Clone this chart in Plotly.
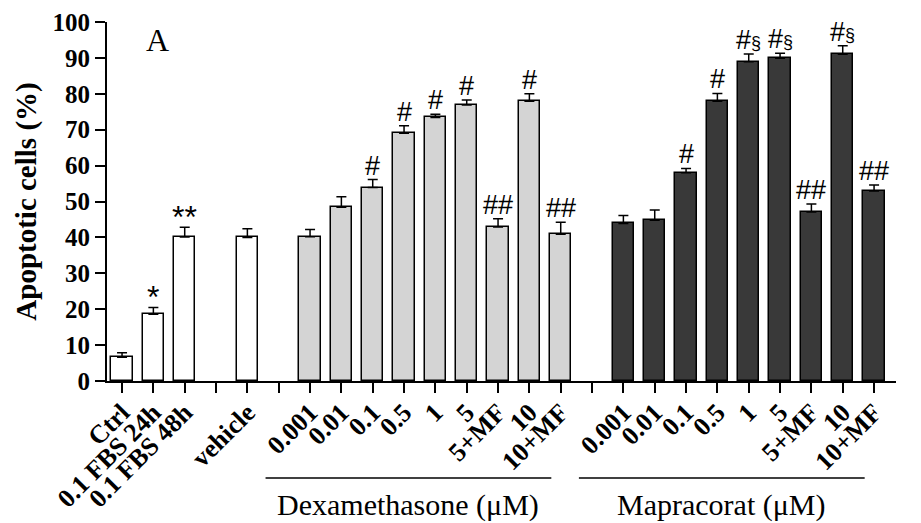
import plotly.graph_objects as go

# ---- data ----
ctrl_labels = ["Ctrl", "0.1 FBS 24h", "0.1 FBS 48h", "vehicle"]
ctrl_vals = [6.6, 18.6, 40.1, 40.0]
ctrl_err = [1.3, 1.9, 2.7, 2.4]
ctrl_marks = ["", "*", "**", ""]

dex_labels = ["0.001", "0.01", "0.1", "0.5", "1", "5", "5+MF", "10", "10+MF"]
dex_vals = [40.2, 48.4, 53.9, 69.0, 73.4, 76.9, 42.9, 77.9, 40.9]
dex_err = [2.0, 2.9, 2.2, 2.1, 0.9, 1.4, 2.3, 2.1, 3.3]
dex_marks = ["", "", "#", "#", "#", "#", "##", "#", "##"]

map_labels = ["0.001", "0.01", "0.1", "0.5", "1", "5", "5+MF", "10", "10+MF"]
map_vals = [43.9, 44.8, 58.0, 77.9, 88.9, 89.9, 47.1, 91.0, 52.9]
map_err = [2.2, 2.8, 1.2, 2.2, 2.2, 1.4, 2.2, 2.4, 1.7]
map_marks = ["", "", "#", "#", "#§", "#§", "##", "#§", "##"]

y_ticks = [0, 10, 20, 30, 40, 50, 60, 70, 80, 90, 100]

# full ordered axis (empty strings are gap slots with ticks)
axis_labels = (ctrl_labels[:3] + [""] + ctrl_labels[3:] + [""]
               + dex_labels + [""] + map_labels)
ctrl_x = [0, 1, 2, 4]
dex_x = [6 + i for i in range(len(dex_labels))]
map_x = [16 + i for i in range(len(map_labels))]

SERIF = "Liberation Serif"
SANS = "Liberation Sans"

fig = go.Figure()

def add_group(xs, vals, errs, color):
    fig.add_trace(go.Bar(
        x=xs, y=vals, width=0.68,
        marker=dict(color=color, line=dict(color="black", width=1.5)),
        error_y=dict(type="data", symmetric=False, array=errs,
                     arrayminus=[0] * len(errs), color="black",
                     thickness=1.5, width=5),
        showlegend=False,
    ))

add_group(ctrl_x, ctrl_vals, ctrl_err, "white")
add_group(dex_x, dex_vals, dex_err, "#d4d4d4")
add_group(map_x, map_vals, map_err, "#393939")

annotations = []

def add_marks(xs, vals, errs, marks):
    for x, v, e, m in zip(xs, vals, errs, marks):
        if not m:
            continue
        if "*" in m:
            annotations.append(dict(x=x, y=v + e, text=m, showarrow=False,
                                     yanchor="bottom", yshift=-10,
                                     font=dict(family=SANS, size=32, color="black")))
        else:
            txt = m.replace("§", "<span style='font-size:18px'>§</span>")
            annotations.append(dict(x=x, y=v + e, text=txt, showarrow=False,
                                     yanchor="bottom", yshift=-3,
                                     font=dict(family=SANS, size=27, color="black")))

add_marks(ctrl_x, ctrl_vals, ctrl_err, ctrl_marks)
add_marks(dex_x, dex_vals, dex_err, dex_marks)
add_marks(map_x, map_vals, map_err, map_marks)

# panel letter
annotations.append(dict(x=1.12, y=95, text="A", showarrow=False,
                        yanchor="middle",
                        font=dict(family=SERIF, size=32, color="black")))

# group labels and lines
shapes = []
for xs, name in [(dex_x, "Dexamethasone (μM)"), (map_x, "Mapracorat (μM)")]:
    x0 = xs[0] - 1.42
    x1 = xs[-1] - 0.3
    shapes.append(dict(type="line", xref="x", yref="paper", x0=x0, x1=x1,
                       y0=-0.27, y1=-0.27, line=dict(color="black", width=1.5)))
    annotations.append(dict(x=(x0 + x1) / 2, y=-0.345, xref="x", yref="paper",
                            text=name, showarrow=False, yanchor="middle",
                            font=dict(family=SERIF, size=30, color="black")))

fig.update_layout(
    width=921, height=523,
    margin=dict(l=99, r=33, t=14, b=150, autoexpand=False),
    paper_bgcolor="white", plot_bgcolor="white",
    bargap=0,
    annotations=annotations, shapes=shapes,
    font=dict(family=SERIF, color="black"),
)

fig.update_xaxes(
    range=[-0.48, 24.7],
    tickmode="array", tickvals=list(range(len(axis_labels))), ticktext=axis_labels,
    tickangle=-45, ticks="outside", ticklen=10, tickwidth=1.5, tickcolor="black",
    tickfont=dict(family=SERIF, size=26, color="black", weight="bold"),
    ticklabelstandoff=-6,
    showline=True, linecolor="black", linewidth=2,
    showgrid=False, zeroline=False,
)
fig.update_yaxes(
    range=[0, 100],
    tickmode="array", tickvals=y_ticks,
    ticks="outside", ticklen=10, tickwidth=1.5, tickcolor="black",
    tickfont=dict(family=SERIF, size=25, color="black", weight="bold"),
    showline=True, linecolor="black", linewidth=2,
    showgrid=False, zeroline=False,
    title=dict(text="Apoptotic cells (%)", standoff=7,
               font=dict(family=SERIF, size=29, color="black", weight="bold")),
)

fig.write_html("out.html")
